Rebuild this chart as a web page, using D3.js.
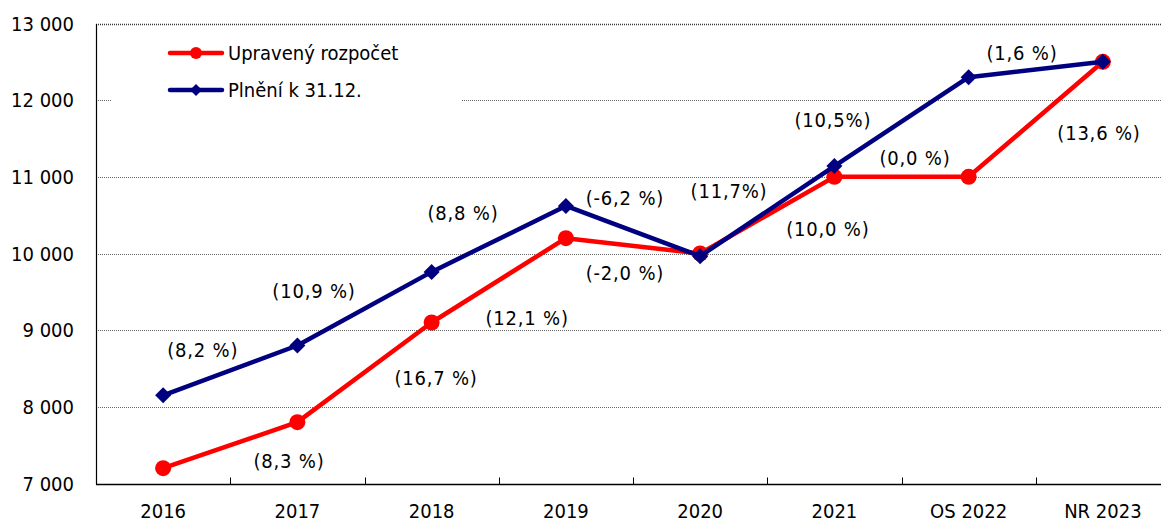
<!DOCTYPE html>
<html>
<head>
<meta charset="utf-8">
<script src="https://cdn.jsdelivr.net/npm/d3@7"></script>
<style>
  body { margin: 0; background: #fff; }
  svg { font-family: "DejaVu Sans Condensed", "DejaVu Sans", Verdana, sans-serif; font-stretch: condensed; }
</style>
</head>
<body>
<div id="chart"></div>
<script>
const categories = ["2016", "2017", "2018", "2019", "2020", "2021", "OS 2022", "NR 2023"];
const rozpocet = [7200, 7800, 9100, 10200, 10000, 11000, 11000, 12500];
const plneni = [8150, 8800, 9760, 10620, 9965, 11140, 12300, 12500];
const yTicks = [7000, 8000, 9000, 10000, 11000, 12000, 13000];

// growth labels: text, position as [category index, value]
const annText = ["(8,2 %)", "(10,9 %)", "(8,8 %)", "(-6,2 %)", "(11,7%)", "(10,5%)", "(1,6 %)",
  "(8,3 %)", "(16,7 %)", "(12,1 %)", "(-2,0 %)", "(10,0 %)", "(0,0 %)", "(13,6 %)"];
const annIdx = [0.295, 1.124, 2.234, 3.44, 4.215, 4.989, 6.397,
  0.938, 2.033, 2.711, 3.44, 4.952, 5.6, 6.971];
const annVal = [8740, 9510, 10530, 10722, 10814, 11739, 12613,
  7293, 8375, 9160, 9744, 10318, 11244, 11570];

const W = 1161, H = 523;
const margin = { top: 23.5, right: -9, bottom: 39.5, left: 96 };
const fontSize = 20;

const svg = d3.select("#chart").append("svg")
  .attr("width", W).attr("height", H);

const x = d3.scaleBand()
  .domain(categories)
  .range([margin.left, W - margin.right]);
const bw = x.bandwidth();
const cx = (c) => x(c) + bw / 2;
const xi = d3.scaleLinear().domain([0, 1]).range([cx(categories[0]), cx(categories[0]) + bw]);

const y = d3.scaleLinear()
  .domain([7000, 13000])
  .range([H - margin.bottom, margin.top]);

// gridlines
svg.append("g")
  .selectAll("line")
  .data(yTicks.slice(1))
  .join("line")
  .attr("x1", margin.left).attr("x2", W)
  .attr("y1", (d) => Math.round(y(d)) + 0.5).attr("y2", (d) => Math.round(y(d)) + 0.5)
  .attr("stroke", (d) => d === 13000 ? "#333" : "#666")
  .attr("stroke-width", (d) => d === 13000 ? 1.5 : 1)
  .attr("stroke-dasharray", "1,1");

// y tick labels
svg.append("g")
  .selectAll("text")
  .data(yTicks)
  .join("text")
  .attr("x", 74)
  .attr("y", (d) => y(d))
  .attr("dy", "0.35em")
  .attr("text-anchor", "end")
  .attr("font-size", fontSize)
  .attr("fill", "#000")
  .text((d) => d3.format(",")(d).replace(/,/g, " "));

// legend background (hides gridline)
svg.append("rect")
  .attr("x", 112).attr("y", 30).attr("width", 349).attr("height", 80)
  .attr("fill", "#fff");

// axes lines
const axisY = Math.round(y(7000)) + 0.5;
svg.append("line")
  .attr("x1", margin.left + 0.5).attr("x2", margin.left + 0.5)
  .attr("y1", Math.round(y(13000))).attr("y2", axisY)
  .attr("stroke", "#000").attr("stroke-width", 1.2);
svg.append("line")
  .attr("x1", margin.left).attr("x2", W)
  .attr("y1", axisY).attr("y2", axisY)
  .attr("stroke", "#000").attr("stroke-width", 1.5);

// x ticks between categories (inside)
svg.append("g")
  .selectAll("line")
  .data(categories.slice(1))
  .join("line")
  .attr("x1", (d) => Math.round(x(d)) + 0.5).attr("x2", (d) => Math.round(x(d)) + 0.5)
  .attr("y1", axisY).attr("y2", axisY - 7)
  .attr("stroke", "#000");

// x labels
svg.append("g")
  .selectAll("text")
  .data(categories)
  .join("text")
  .attr("x", (d) => cx(d))
  .attr("y", 518)
  .attr("text-anchor", "middle")
  .attr("font-size", fontSize)
  .attr("fill", "#000")
  .text((d) => d);

const line = d3.line()
  .x((d, i) => cx(categories[i]))
  .y((d) => y(d));

// red series
svg.append("path")
  .datum(rozpocet)
  .attr("d", line)
  .attr("fill", "none")
  .attr("stroke", "#ff0000")
  .attr("stroke-width", 4.5)
  .attr("stroke-linejoin", "round");
svg.append("g")
  .selectAll("circle")
  .data(rozpocet)
  .join("circle")
  .attr("cx", (d, i) => cx(categories[i]))
  .attr("cy", (d) => y(d))
  .attr("r", 8)
  .attr("fill", "#ff0000");

// blue series
svg.append("path")
  .datum(plneni)
  .attr("d", line)
  .attr("fill", "none")
  .attr("stroke", "#000080")
  .attr("stroke-width", 4.5)
  .attr("stroke-linejoin", "round");
const diamond = (s) => `M0,${-s}L${s},0L0,${s}L${-s},0Z`;
svg.append("g")
  .selectAll("path")
  .data(plneni)
  .join("path")
  .attr("transform", (d, i) => `translate(${cx(categories[i])},${y(d)})`)
  .attr("d", diamond(8))
  .attr("fill", "#000080");

// growth annotations
svg.append("g")
  .selectAll("text")
  .data(annText)
  .join("text")
  .attr("x", (d, i) => xi(annIdx[i]))
  .attr("y", (d, i) => y(annVal[i]))
  .attr("dy", "0.35em")
  .attr("text-anchor", "middle")
  .attr("font-size", fontSize)
  .attr("letter-spacing", 0.8)
  .attr("fill", "#000")
  .text((d) => d);

// legend
const legend = [
  { name: "Upravený rozpočet", color: "#ff0000", shape: "circle", ly: 53 },
  { name: "Plnění k 31.12.", color: "#000080", shape: "diamond", ly: 90 },
];
const lg = svg.append("g")
  .selectAll("g")
  .data(legend)
  .join("g")
  .attr("transform", (d) => `translate(0,${d.ly})`);
lg.append("line")
  .attr("x1", 170).attr("x2", 222)
  .attr("stroke", (d) => d.color)
  .attr("stroke-width", 4.5)
  .attr("stroke-linecap", "round");
lg.filter((d) => d.shape === "circle").append("circle")
  .attr("cx", 196).attr("r", 6)
  .attr("fill", (d) => d.color);
lg.filter((d) => d.shape === "diamond").append("path")
  .attr("transform", "translate(196,0)")
  .attr("d", diamond(6))
  .attr("fill", (d) => d.color);
lg.append("text")
  .attr("x", 228)
  .attr("dy", "0.35em")
  .attr("font-size", fontSize)
  .attr("fill", "#000")
  .text((d) => d.name);
</script>
</body>
</html>
